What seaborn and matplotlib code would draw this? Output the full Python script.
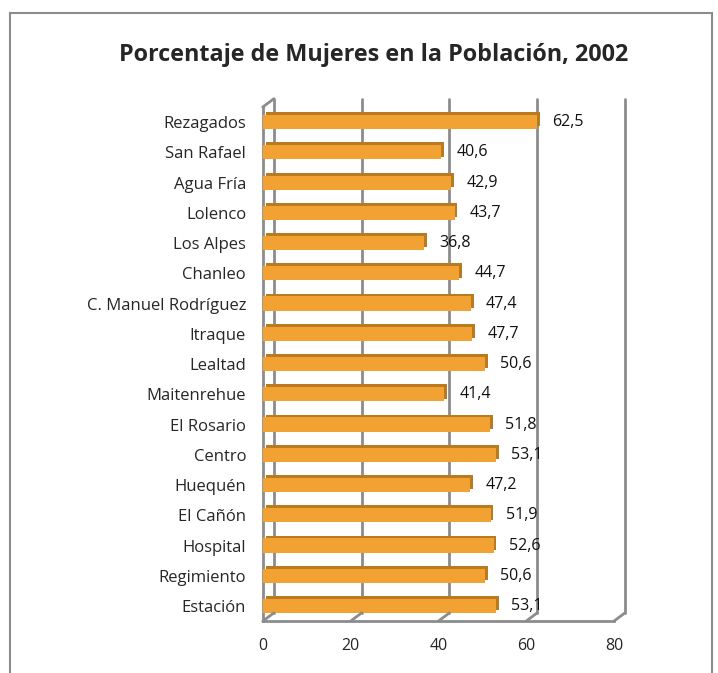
import seaborn as sns
import matplotlib.pyplot as plt
import matplotlib.patheffects as pe
from matplotlib.patches import Rectangle
from matplotlib.transforms import ScaledTranslation
import pandas as pd

# datos
sectores = ["Rezagados", "San Rafael", "Agua Fría", "Lolenco", "Los Alpes", "Chanleo",
            "C. Manuel Rodríguez", "Itraque", "Lealtad", "Maitenrehue", "El Rosario",
            "Centro", "Huequén", "El Cañón", "Hospital", "Regimiento", "Estación"]
porcentajes = [62.5, 40.6, 42.9, 43.7, 36.8, 44.7, 47.4, 47.7, 50.6, 41.4, 51.8,
               53.1, 47.2, 51.9, 52.6, 50.6, 53.1]
ticks_x = [0, 20, 40, 60, 80]

df = pd.DataFrame({"sector": sectores, "pct": porcentajes})

sns.set_theme(style="white")
plt.rcParams['font.family'] = ['Open Sans', 'DejaVu Sans']

fig = plt.figure(figsize=(7.18, 6.73), dpi=100)
ax = fig.add_axes([0.366, 0.077, 0.489, 0.764])

sns.barplot(data=df, x="pct", y="sector", color="#F2A233", saturation=1,
            width=0.47, ax=ax, zorder=3)

# efecto 3D: cara superior/lateral más oscura
for bar in ax.patches:
    bar.set_edgecolor("none")
    bar.set_path_effects([
        pe.withSimplePatchShadow(offset=(2, 2), shadow_rgbFace="#BC7A1F", alpha=1.0),
    ])

for bar, v in zip(ax.patches, porcentajes):
    ax.annotate(f"{v:.1f}".replace(".", ","),
                (bar.get_width(), bar.get_y() + bar.get_height() / 2),
                xytext=(11, 0), textcoords="offset points",
                va="center", ha="left", fontsize=11.5, color="#111111")

ax.set_xlim(0, 80)
ax.set_xticks(ticks_x)
ax.set_xticklabels([str(t) for t in ticks_x], fontsize=11.5)
ax.tick_params(axis="y", labelsize=12, length=0, pad=12)
ax.tick_params(axis="x", length=0, pad=12)
ax.set_xlabel("")
ax.set_ylabel("")

# rejilla en la pared del fondo (desplazada)
ax.grid(axis="x", color="#8C8C8C", linewidth=2, zorder=0)
off = ScaledTranslation(8 / 72, 6 / 72, fig.dpi_scale_trans)
for ln in ax.get_xgridlines():
    ln.set_transform(ln.get_transform() + off)
    ln.set_clip_on(False)
    ln.set_zorder(0)

for s in ["top", "right"]:
    ax.spines[s].set_visible(False)
ax.spines["left"].set_color("#8C8C8C")
ax.spines["left"].set_linewidth(2)
ax.spines["bottom"].set_color("#8C8C8C")
ax.spines["bottom"].set_linewidth(2)

# diagonales del piso
for t in ticks_x:
    ax.annotate("", xy=(t, 0), xycoords=("data", "axes fraction"),
                xytext=(8, 6), textcoords="offset points",
                arrowprops=dict(arrowstyle="-", color="#8C8C8C", lw=2,
                                shrinkA=0, shrinkB=0),
                annotation_clip=False)
ax.annotate("", xy=(0, 1), xycoords="axes fraction",
            xytext=(8, 6), textcoords="offset points",
            arrowprops=dict(arrowstyle="-", color="#8C8C8C", lw=2, shrinkA=0, shrinkB=0),
            annotation_clip=False)

fig.text(0.52, 0.918, "Porcentaje de Mujeres en la Población, 2002",
         ha="center", va="center", fontsize=16.8, fontweight="bold")

fig.patches.append(Rectangle((0.014, -0.01), 0.978, 0.991, transform=fig.transFigure,
                             fill=False, edgecolor="#8C8C8C", linewidth=1.5))

fig.savefig("out.png", dpi=100)
